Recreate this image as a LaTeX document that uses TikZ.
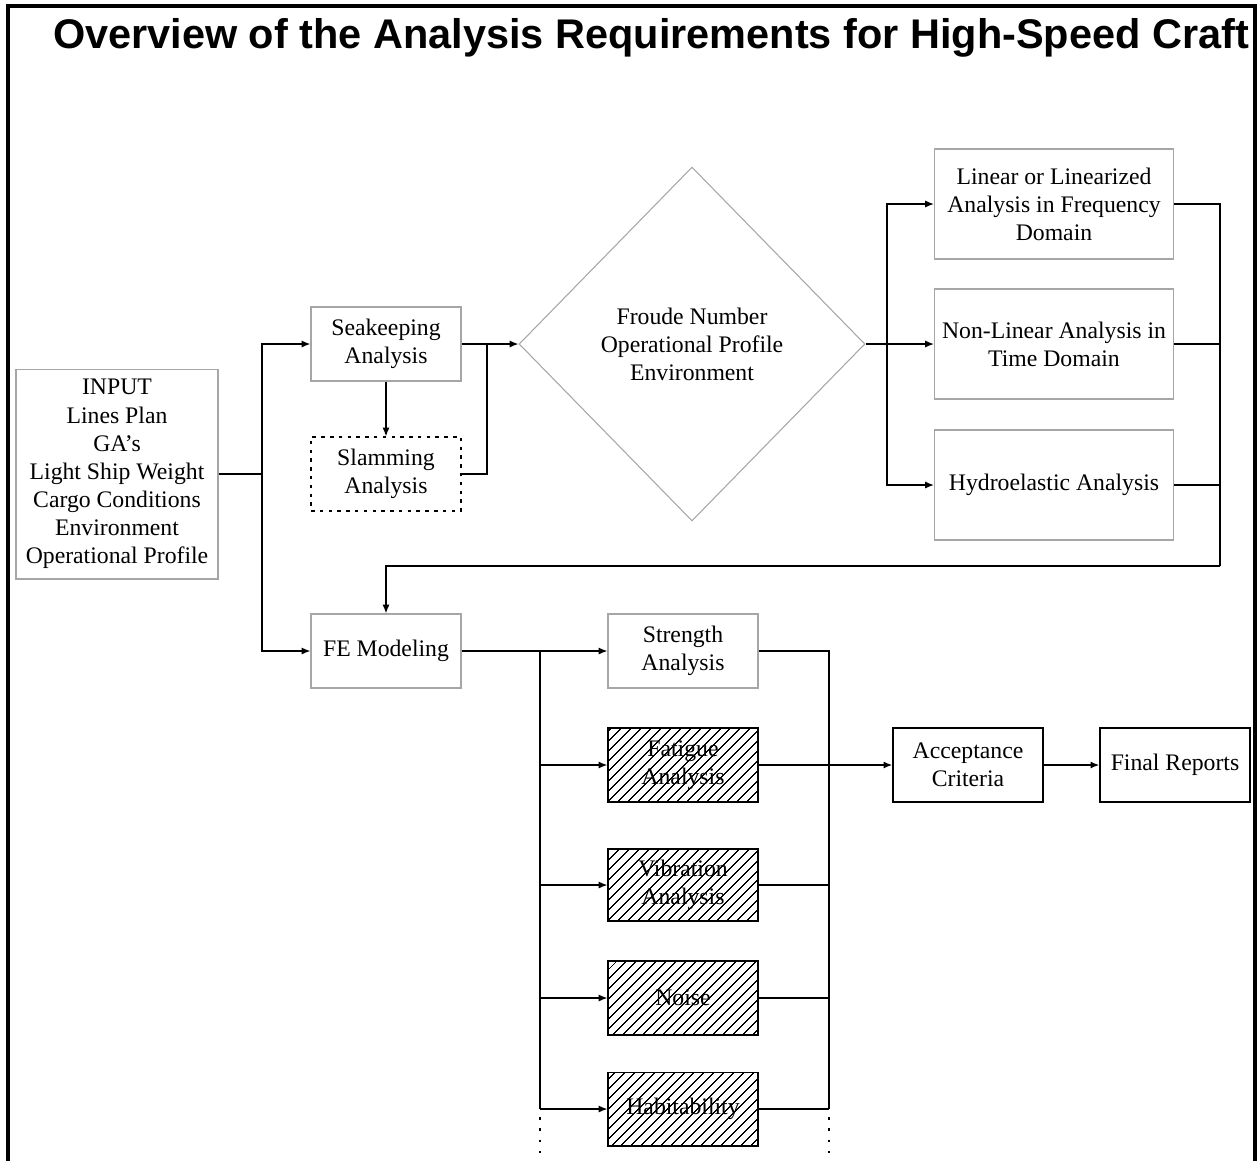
\documentclass[tikz,border=0pt]{standalone}
\usepackage{fontspec}
\setmainfont{Liberation Serif}
\newfontfamily\titlefont{Liberation Sans}
\usetikzlibrary{shapes.geometric,patterns.meta,arrows.meta}

\begin{document}
\begin{tikzpicture}[x=0.02cm,y=-0.02cm,
  font=\fontsize{13.5}{16}\selectfont,
  box/.style={draw=black!35,line width=0.6pt,align=center,inner sep=1pt,
    minimum width=3cm,minimum height=1.48cm},
  widebox/.style={box,minimum width=4.78cm,minimum height=2.2cm},
  hatchbox/.style={box,draw=black,pattern={Lines[angle=45,distance=4pt,line width=0.7pt]}},
  endbox/.style={box,draw=black,line width=0.8pt},
  conn/.style={line width=0.8pt},
  arr/.style={conn,-{Latex[length=5pt,width=4pt]}}]

\useasboundingbox (0,0) rectangle (1258,1161);

% Outer frame, open at the bottom.
\draw[line width=1.8pt] (8,1161) -- (8,6) -- (1255,6) -- (1255,1161);

\node (title) at (651,38) {\titlefont\bfseries\fontsize{23.6}{28}\selectfont Overview of the Analysis Requirements for High-Speed Craft};

% Input and first analyses.
\node[box,minimum width=4.04cm,minimum height=4.2cm] (input) at (117,474)
  {INPUT\\Lines Plan\\GA's\\Light Ship Weight\\Cargo Conditions\\Environment\\Operational Profile};
\node[box] (seak) at (386,344) {Seakeeping\\Analysis};
\node[box,draw=black,dashed,dash pattern=on 2pt off 3pt] (slam) at (386,474) {Slamming\\Analysis};
\node[diamond,draw=black!35,line width=0.6pt,align=center,minimum width=6.92cm,minimum height=7.08cm] (froude) at (692,344)
  {Froude Number\\Operational Profile\\Environment};

% Hydrodynamic analyses.
\node[widebox] (lin) at (1054,204) {Linear or Linearized\\Analysis in Frequency\\Domain};
\node[widebox] (nonlin) at (1054,344) {Non-Linear Analysis in\\Time Domain};
\node[widebox] (hydro) at (1054,485) {Hydroelastic Analysis};

% Structural analyses.
\node[box] (fem) at (386,651) {FE Modeling};
\node[box] (strength) at (683,651) {Strength\\Analysis};
\node[hatchbox] (fatigue) at (683,765) {Fatigue\\Analysis};
\node[hatchbox,minimum height=1.44cm] (vibr) at (683,885) {Vibration\\Analysis};
\node[hatchbox] (noise) at (683,998) {Noise};
\node[hatchbox] (habit) at (683,1109) {Habitability};
\node[endbox] (accept) at (968,765) {Acceptance\\Criteria};
\node[endbox] (final) at (1175,765) {Final Reports};

% Junction points.
\coordinate (jin) at (262,474);
\coordinate (jseak) at (487,344);
\coordinate (jfr) at (887,344);
\coordinate (jret) at (1220,566);
\coordinate (jfe) at (540,651);
\coordinate (jout) at (829,651);

% Connectors.
\draw[conn] (input.east) -- (jin);
\draw[arr] (jin) |- (seak.west);
\draw[arr] (jin) |- (fem.west);
\draw[arr] (seak.south) -- (slam.north);
\draw[conn] (seak.east) -- (jseak);
\draw[conn] (slam.east) -| (jseak);
\draw[arr] (jseak) -- (froude.west);

\draw[conn] (froude.east) -- (jfr);
\draw[arr] (jfr) |- (lin.west);
\draw[arr] (jfr) -- (nonlin.west);
\draw[arr] (jfr) |- (hydro.west);
\draw[conn] (lin.east) -| (jret);
\draw[conn] (nonlin.east) -| (jret);
\draw[conn] (hydro.east) -| (jret);
\draw[arr] (jret) -| (fem.north);

\draw[conn] (fem.east) -- (jfe);
\draw[arr] (jfe) -- (strength.west);
\draw[conn] (jfe) -- (jfe |- habit.west);
\foreach \n in {fatigue,vibr,noise,habit}
  \draw[arr] (jfe |- \n.west) -- (\n.west);
\draw[conn,dotted,dash pattern=on 1.5pt off 5pt] (jfe |- habit.west) ++(0,8) -- ++(0,36);

\draw[conn] (strength.east) -- (jout) -- (jout |- habit.east);
\foreach \n in {vibr,noise,habit}
  \draw[conn] (\n.east) -- (jout |- \n.east);
\draw[conn,dotted,dash pattern=on 1.5pt off 5pt] (jout |- habit.east) ++(0,8) -- ++(0,36);
\draw[arr] (fatigue.east) -- (accept.west);
\draw[arr] (accept.east) -- (final.west);

\end{tikzpicture}
\end{document}
